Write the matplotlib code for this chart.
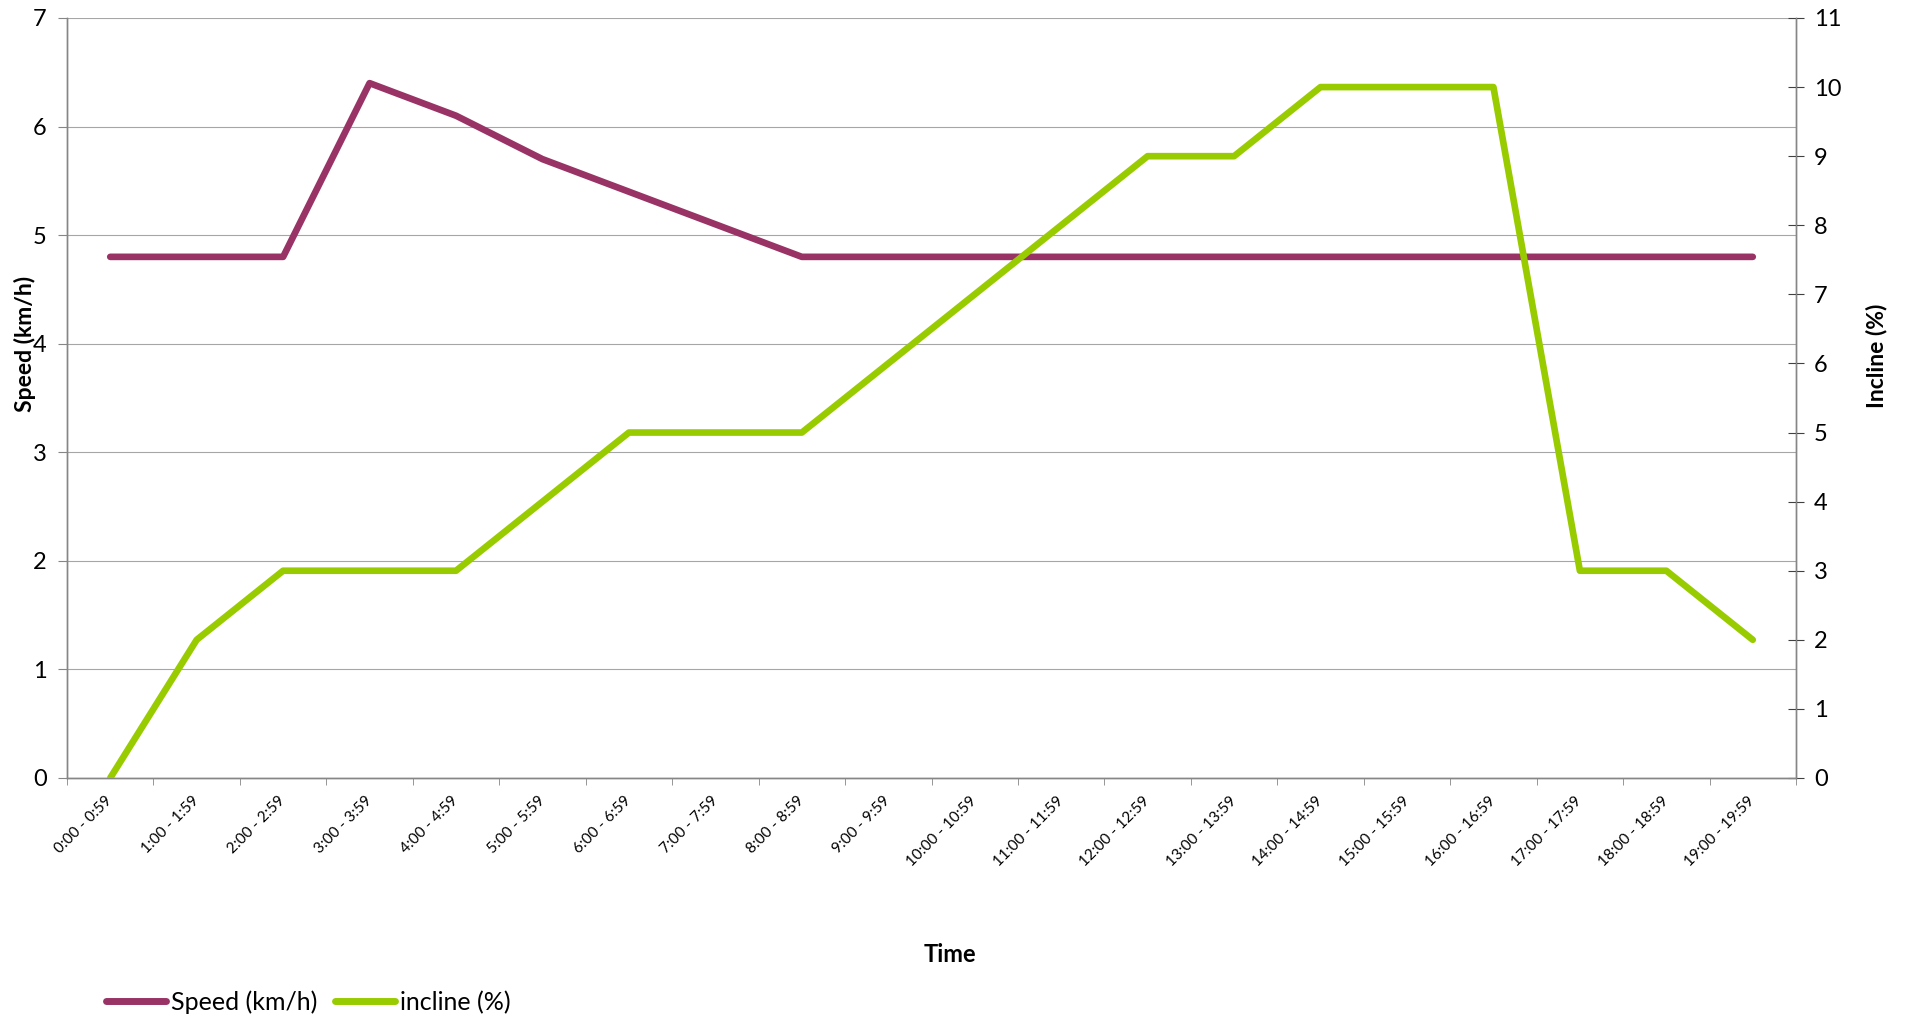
import matplotlib
matplotlib.use('Agg')
import matplotlib.ticker as ticker
from matplotlib import pyplot as plt
from matplotlib.lines import Line2D

# Chart data
time_slots = ['0:00 - 0:59', '1:00 - 1:59', '2:00 - 2:59', '3:00 - 3:59', '4:00 - 4:59',
              '5:00 - 5:59', '6:00 - 6:59', '7:00 - 7:59', '8:00 - 8:59', '9:00 - 9:59',
              '10:00 - 10:59', '11:00 - 11:59', '12:00 - 12:59', '13:00 - 13:59', '14:00 - 14:59',
              '15:00 - 15:59', '16:00 - 16:59', '17:00 - 17:59', '18:00 - 18:59', '19:00 - 19:59']
speed = [4.8, 4.8, 4.8, 6.4, 6.1, 5.7, 5.4, 5.1, 4.8, 4.8,
         4.8, 4.8, 4.8, 4.8, 4.8, 4.8, 4.8, 4.8, 4.8, 4.8]
incline = [0, 2, 3, 3, 3, 4, 5, 5, 5, 6,
           7, 8, 9, 9, 10, 10, 10, 3, 3, 2]

SPEED_COL = '#993366'
INCL_COL = '#99CC00'
AXIS_COL = '#868686'
GRID_COL = '#a6a6a6'

plt.rcParams['font.family'] = ['Lato', 'DejaVu Sans']

fig = plt.figure(figsize=(19.1, 10.18), dpi=100)
ax = fig.add_axes([67 / 1910, 1 - 778 / 1018, (1796 - 67) / 1910, (778 - 18) / 1018])
ax2 = ax.twinx()

x = list(range(len(time_slots)))
ax.plot(x, speed, color=SPEED_COL, lw=4.8, solid_capstyle='round', solid_joinstyle='round', zorder=3)
ax2.plot(x, incline, color=INCL_COL, lw=4.8, solid_capstyle='round', solid_joinstyle='round', zorder=3)

ax.set_xlim(-0.5, len(time_slots) - 0.5)
ax.set_ylim(0, 7)
ax2.set_ylim(0, 11)

# gridlines from the speed axis
ax.yaxis.set_major_locator(ticker.MultipleLocator(1))
ax.grid(axis='y', color=GRID_COL, lw=0.8)
ax.set_axisbelow(True)
ax2.yaxis.set_major_locator(ticker.MultipleLocator(1))

for a in (ax, ax2):
	a.spines['top'].set_visible(False)
	for s in ('left', 'right', 'bottom'):
		a.spines[s].set_color(AXIS_COL)
		a.spines[s].set_linewidth(1.0)

# x ticks: labels at category centres, tick marks at boundaries
ax.set_xticks(x)
ax.set_xticklabels(time_slots, rotation=45, ha='right', va='center', rotation_mode='anchor', fontsize=11)
ax.xaxis.set_minor_locator(ticker.FixedLocator([i - 0.5 for i in range(len(time_slots) + 1)]))
ax.tick_params(axis='x', which='major', length=0, pad=15)
ax.tick_params(axis='x', which='minor', length=5, color=AXIS_COL, direction='out')

ax.tick_params(axis='y', length=6.5, color=AXIS_COL, direction='out', labelsize=17, pad=8)
ax2.tick_params(axis='y', length=12, color='#404040', direction='inout', labelsize=17, pad=7)

fig.text(25 / 1910, 1 - 344 / 1018, 'Speed (km/h)', rotation=90, ha='center', va='center',
		 fontsize=16.5, fontweight='bold')
fig.text(1876 / 1910, 1 - 356 / 1018, 'Incline (%)', rotation=90, ha='center', va='center',
		 fontsize=16.5, fontweight='bold')
fig.text(950 / 1910, 1 - 954 / 1018, 'Time', ha='center', va='center', fontsize=17, fontweight='bold')

handles = [Line2D([], [], color=SPEED_COL, lw=5, solid_capstyle='round'),
		   Line2D([], [], color=INCL_COL, lw=5, solid_capstyle='round')]
fig.legend(handles, ['Speed (km/h)', 'incline (%)'], loc='center left',
		   bbox_to_anchor=(106 / 1910, 1 - 1002 / 1018), ncol=2, frameon=False, fontsize=18,
		   handlelength=2.4, handletextpad=0.2, columnspacing=0.7, borderpad=0, borderaxespad=0)

fig.savefig('out.png', dpi=100)
